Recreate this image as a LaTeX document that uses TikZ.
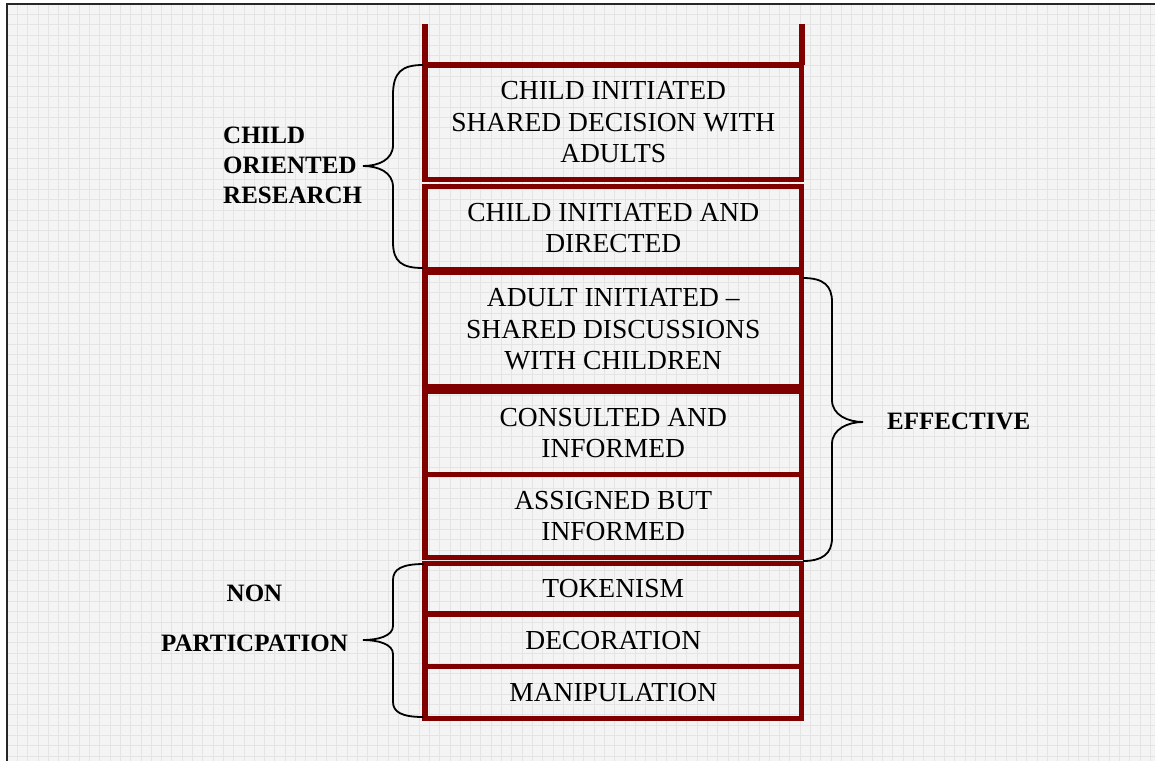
\documentclass[tikz,border=0pt]{standalone}
\usepackage{fontspec}
\setmainfont{Liberation Serif}
\definecolor{rung}{HTML}{800000}
\definecolor{bgc}{HTML}{F4F4F4}
\definecolor{gridc}{HTML}{E4E4E4}
\begin{document}
\begin{tikzpicture}[x=1pt,y=-1pt,
  rungbox/.style={draw=rung, line width=5.5pt, minimum width=376.5pt, inner sep=0pt, outer sep=0pt, align=center, font=\fontsize{27.5}{31.5}\selectfont},
  lbl/.style={font=\fontsize{25}{30}\selectfont\bfseries, inner sep=0pt},
  bracepath/.style={draw=black, line width=1.8pt},
  rail/.style={draw=rung, line width=6pt}]
\useasboundingbox (0,0) rectangle (1155,761);
\fill[bgc] (7,4) rectangle (1155,761);
\foreach \i in {0,...,111} \draw[gridc, line width=0.7pt] (7+10.3*\i,4) -- (7+10.3*\i,761);
\foreach \i in {0,...,73} \draw[gridc, line width=0.7pt] (7,4+10.3*\i) -- (1155,4+10.3*\i);
\draw[black!85, line width=2pt] (1155,4) -- (7,4) -- (7,761);

\node[rungbox, minimum height=114.5pt] (b1) at (613.25,122.25) {CHILD INITIATED\\SHARED DECISION WITH\\ADULTS};
\node[rungbox, minimum height=83.5pt] (b2) at (613.25,228.25) {CHILD INITIATED AND\\DIRECTED};
\node[rungbox, minimum height=114.5pt] (b3) at (613.25,329.25) {ADULT INITIATED --\\SHARED DISCUSSIONS\\WITH CHILDREN};
\node[rungbox, minimum height=83pt] (b4) at (613.25,433) {CONSULTED AND\\INFORMED};
\node[rungbox, minimum height=83pt] (b5) at (613.25,516) {ASSIGNED BUT\\INFORMED};
\node[rungbox, minimum height=50.5pt] (b6) at (613.25,588.75) {TOKENISM};
\node[rungbox, minimum height=52.5pt] (b7) at (613.25,640.25) {DECORATION};
\node[rungbox, minimum height=52pt] (b8) at (613.25,692.5) {MANIPULATION};

\coordinate (railL) at (425,24);
\coordinate (railR) at (801.5,24);
\draw[rail] (railL) -- (b1.north west);
\draw[rail] (railR) -- (b1.north east);

\node[lbl, anchor=west, align=left] (lco) at (223,165) {CHILD\\ORIENTED\\RESEARCH};
\node[lbl, anchor=west] (leff) at (887,421.75) {EFFECTIVE};
\node[lbl, anchor=east, align=center] (lnon) at (348,618.75) {NON\\[20pt]PARTICPATION};

% braces
\draw[bracepath] (423,65) .. controls (402,65) and (393,72) .. (393,95) -- (393,145)
  .. controls (393,160) and (378,166) .. (363,166)
  .. controls (378,166) and (393,172) .. (393,187) -- (393,242)
  .. controls (393,262) and (402,268) .. (423,268);
\draw[bracepath] (803,278) .. controls (824,278) and (832,286) .. (832,302) -- (832,400)
  .. controls (832,415) and (848,422) .. (863,422)
  .. controls (848,422) and (832,429) .. (832,444) -- (832,538)
  .. controls (832,554) and (822,561) .. (803,561);
\draw[bracepath] (424,564) .. controls (402,564) and (393,569) .. (393,580) -- (393,626)
  .. controls (393,636) and (378,640) .. (363,640)
  .. controls (378,640) and (393,644) .. (393,654) -- (393,702)
  .. controls (393,712) and (402,717) .. (423,717);
\end{tikzpicture}
\end{document}
